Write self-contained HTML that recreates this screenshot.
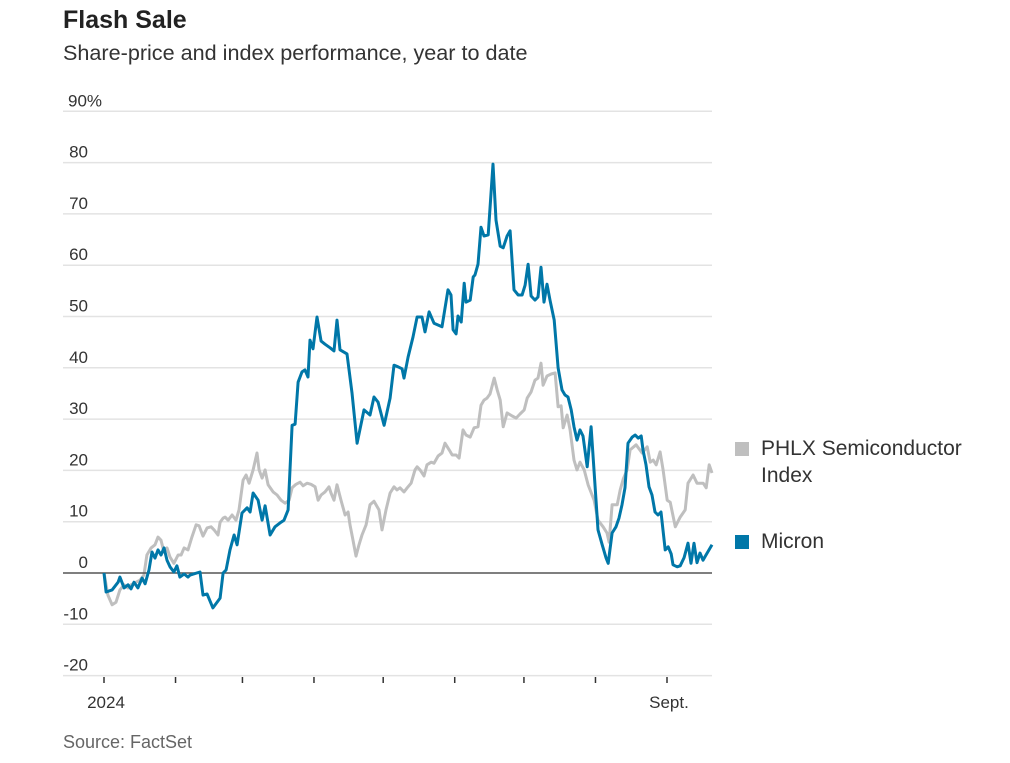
<!DOCTYPE html>
<html><head><meta charset="utf-8"><style>
html,body{margin:0;padding:0;background:#fff;width:1010px;height:763px;overflow:hidden;font-family:"Liberation Sans",sans-serif;}
#title{position:absolute;left:63px;top:6px;font-size:25px;font-weight:bold;color:#222;}
#sub{position:absolute;left:63px;top:40px;font-size:21.6px;color:#333;}
#src{position:absolute;left:63px;top:732px;font-size:18px;color:#666;}
svg{position:absolute;left:0;top:0;}
</style></head><body>
<div id="title">Flash Sale</div>
<div id="sub">Share-price and index performance, year to date</div>
<div id="src">Source: FactSet</div>
<svg id="chart" width="1010" height="763"></svg>
<script>
const yTicks=[90,80,70,60,50,40,30,20,10,0,-10,-20];
const yTickLabels=["90%","80","70","60","50","40","30","20","10","0","-10","-20"];
const monthDays=[0,31,60,91,121,152,182,213,244];
const monthLabels=["2024","","","","","","","","Sept."];
const micronDays=[0,0.9,3.5,6.1,6.9,8.7,10.4,11.7,13,14.7,
16.5,17.8,19.5,20.8,22.1,23.4,24.7,26,27.3,28.6,
30.3,31.6,32.9,34.7,36.4,37.3,41.6,42.9,44.7,47.2,
50.3,51.6,52.9,54.6,56.4,57.7,59.8,62,63.3,64.6,
66.8,68.5,69.8,72,74.1,76.7,78,79.8,81.5,82.8,
84.1,85.8,87.1,88.4,89.3,90.6,92.3,94.1,95.8,98,
99.7,101,102.3,105.3,107.5,109.7,112.7,115.3,117,118.8,
121.4,124,125.7,127.4,129.2,130,131.8,133.9,135.7,137.8,
139.1,140.9,143,146.5,149.1,150.4,151.3,152.6,153.4,154.8,
156.1,156.9,158.7,160,160.8,162.1,163.4,164.7,166.5,168.6,
169.9,171.7,173,174.7,176,177.7,179.5,181.2,182.5,183.8,
185.1,186.8,188.1,189.4,190.7,192,193.3,195.1,196.8,198.5,
199.8,201.1,202.5,203.7,205,206.3,207.6,209.4,211.1,214.1,
215.9,217.6,218.5,220.2,221.9,223.2,224.5,225.8,227.1,228.9,
230.2,231.5,232.8,233.6,234.9,236.2,237.5,238.8,240.1,241.4,
243.2,244.5,245.8,246.6,248.4,249.7,251.4,253.1,254.4,255.7,
257,258.3,259.6,260.9,263.5];
const micronValues=[0,-3.7,-3.3,-1.8,-0.8,-2.9,-2.3,-3.1,-1.8,-2.9,
-1,-2.1,0.6,4.1,2.9,4.5,3.5,4.9,2.5,1.2,
0.2,1.4,-0.8,-0.2,-0.8,-0.4,0.2,-4.3,-4.1,-6.8,
-4.9,0,0.6,4.5,7.4,5.5,11.7,12.7,11.9,15.6,
14.2,10.3,13.1,7.4,9,9.9,10.3,12.3,28.8,29,
37.2,39.2,39.6,38.2,45.4,43.7,49.9,45.2,44.6,43.9,
43.3,49.3,43.5,42.7,35.1,25.3,31.8,30.8,34.3,33.3,
28.8,34.1,40.5,40.2,39.8,38,42.1,46,49.9,49.9,
47,50.9,48.7,48,55.2,54.2,47.4,46.6,50.1,48.9,
56.5,52.8,53.2,57.7,58.1,60.2,67.4,65.7,65.9,79.7,
68.8,63.7,63.4,65.7,66.7,55.2,54.2,54.2,56.1,60.2,
54,53.2,53.8,59.6,52.8,56.3,53.2,49.3,40,35.7,
34.7,34.3,31.8,28.5,25.9,27.9,26.7,20.7,28.5,8.4,
5.5,2.9,1.9,7.8,9,10.7,13.3,16.6,25.3,26.5,
26.9,26.3,26.7,24,21.1,16.8,15.2,11.9,11.3,11.9,
4.5,5.1,3.7,1.6,1.2,1.4,3,5.8,1.9,5.8,
2,3.9,2.5,3.5,5.5];
const phlxDays=[0,1.7,3.5,5.2,6.9,8.7,10.4,11.7,13.4,15.6,
17.3,18.6,20.4,22.1,23.4,24.7,26,27.3,28.6,30.3,
32.1,33.4,34.7,36.4,38.1,39.9,41.2,42.9,44.7,46.4,
47.7,49.4,50.3,51.6,52.5,53.8,55.5,57.2,58.5,60.3,
61.6,62.9,64.6,66.3,67.2,68.5,69.8,71.1,73.3,75,
76.7,78.5,80.2,81.5,83.2,85,86.3,88,89.7,91.5,
92.8,94.1,95.8,97.5,98.4,99.7,101,102.7,104.5,105.8,
106.6,107.9,109.2,110.5,111.8,113.6,115.3,117,119.2,120.5,
122.2,124,125.7,127,128.3,130,131.4,133.1,134.8,135.7,
137,138.7,140,141.8,143,144.8,146.5,147.8,149.6,150.9,
152.6,153.9,155.6,156.9,158.7,160.4,162.1,163.4,164.7,166,
167.3,169.1,170.4,171.7,173,174.7,176.9,178.6,180.3,182.1,
183.4,185.1,186.8,188.1,189.4,190.3,192,193.8,195.5,196.8,
198.1,199,200.7,202,203.7,205,206.3,208.1,209.8,212.4,
214.1,216.3,218,218.9,220.2,222.4,223.7,225,226.7,228,
230.6,233.2,235.4,236.7,238,239.3,241,242.3,244.1,245.4,
247.6,249.7,251.9,253.1,255.3,257,259.7,261,262.3,263.5];
const phlxValues=[0,-4.3,-6.2,-5.7,-3.3,-2.3,-2.9,-2.3,-1.9,-1.4,
-0.4,3.5,4.9,5.5,7,6.4,4.1,4.9,3.1,1.9,
3.5,3.5,4.9,4.5,7,9.4,9.2,7.2,8.8,9,
8.4,7.4,9.9,10.7,10.9,10.3,11.3,10.3,12.3,18.1,
19.1,17.5,20.1,23.4,20.1,18.5,20.1,17.2,15.8,15.2,
14.2,13.6,14.2,16.6,17.3,17.7,17,17.5,17.3,16.8,
14.2,15.2,15.8,16.8,15.6,14.2,17.2,14.2,11.3,11.9,
9.4,6.4,3.3,5.5,7.4,9.4,13.3,14,12.3,8.4,
12.3,15.6,16.8,16.2,16.6,15.8,16.6,17.5,20.1,20.7,
20.1,18.9,21.1,21.6,21.4,22.8,23.4,25.3,24,23,
23,22.4,27.9,26.9,26.5,28.3,28.5,32.7,33.7,34.1,
34.9,38,35.7,33.7,28.5,31.2,30.6,30.2,31,31.8,
34.1,35.3,37.6,38,40.9,36.6,38.4,38.8,39,32.4,
32.6,28.3,30.8,27.9,22,20.1,21.6,20.1,17.2,14.2,
10.3,9,7.8,6,13.3,13.3,16.2,18.3,20.1,24,
25,23.4,24.6,21.6,22,21.1,23.6,20.1,14.2,13.8,
9,10.9,12.3,17.5,19.1,17.5,17.5,16.6,21.1,19.5];

const NS="http://www.w3.org/2000/svg";
const svg=document.getElementById('chart');
const X=d=>104+d*(563/244);
const Y=v=>573-v*5.13;
function mk(tag,attrs){const e=document.createElementNS(NS,tag);for(const k in attrs)e.setAttribute(k,attrs[k]);svg.appendChild(e);return e;}
yTicks.forEach((t,i)=>{
  if(t!==0){const g=mk('line',{x1:63,x2:712,y1:Y(t),y2:Y(t),stroke:'#e3e3e3','stroke-width':1.5});
  
  }
  const isTop=(i===0);
  const tx=mk('text',{x:isTop?68:88,y:Y(t)-5,'font-size':17,fill:'#333','text-anchor':isTop?'start':'end','font-family':'"Liberation Sans",sans-serif'});
  tx.textContent=yTickLabels[i];
  
  
});
monthDays.forEach((d,i)=>{
  const tk=mk('line',{x1:X(d),x2:X(d),y1:677,y2:683,stroke:'#333','stroke-width':1.5});
  
  
  if(monthLabels[i]){const t=mk('text',{x:X(d)+2,y:708,'font-size':17,fill:'#333','text-anchor':'middle','font-family':'"Liberation Sans",sans-serif'});t.textContent=monthLabels[i];
  
  }
});
function line(days,vals,color,name){
  const d=days.map((x,i)=>(i?'L':'M')+X(x).toFixed(1)+','+Y(vals[i]).toFixed(1)).join('');
  const p=mk('path',{d:d,fill:'none',stroke:color,'stroke-width':3,'stroke-linejoin':'round'});
  
  
}
line(phlxDays,phlxValues,'#bfbfbf','phlx-line');
const zl=mk('line',{x1:63,x2:712,y1:Y(0),y2:Y(0),stroke:'#555','stroke-width':1.5});


line(micronDays,micronValues,'#0077a8','micron-line');
function legend(y,color,lines,name){
  const r=mk('rect',{x:735,y:y-13,width:14,height:14,fill:color});
  
  
  lines.forEach((s,i)=>{const t=mk('text',{x:761,y:y+i*27,'font-size':21,fill:'#333','font-family':'"Liberation Sans",sans-serif'});t.textContent=s;
  
  });
}
legend(455,'#bfbfbf',['PHLX Semiconductor','Index'],'legend-phlx');
legend(548,'#0077a8',['Micron'],'legend-micron');
</script>
</body></html>
